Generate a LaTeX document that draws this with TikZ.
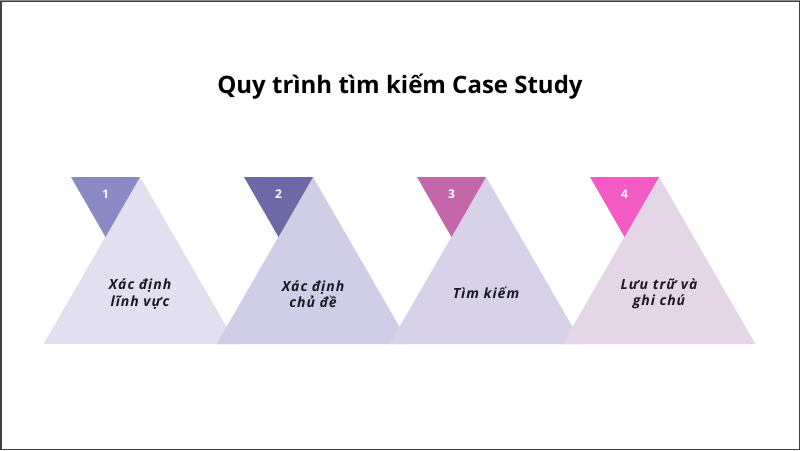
\documentclass[tikz,border=0pt]{standalone}
\usepackage{fontspec}
\setmainfont{Open Sans}
\newfontfamily\labelfont[LetterSpace=7]{Open Sans}
\definecolor{big1}{HTML}{E1DFF0}
\definecolor{big2}{HTML}{D0CDE6}
\definecolor{big3}{HTML}{D8D2E8}
\definecolor{big4}{HTML}{E5D6E7}
\definecolor{sm1}{HTML}{8A8AC4}
\definecolor{sm2}{HTML}{6D69A6}
\definecolor{sm3}{HTML}{C366AA}
\definecolor{sm4}{HTML}{F25CC2}
\definecolor{txt}{HTML}{1A1A22}
\tikzset{
  numlabel/.style={text=white,font=\fontsize{12}{14}\selectfont\bfseries,inner sep=0pt},
  steplabel/.style={text=txt,font=\labelfont\fontsize{14}{16.5}\selectfont\bfseries\itshape,align=center,inner sep=0pt},
  titlelabel/.style={text=black,font=\fontsize{24}{28}\selectfont\bfseries,inner sep=0pt}
}
\begin{document}
\begin{tikzpicture}[x=1pt,y=-1pt]
\useasboundingbox (0,0) rectangle (800,450);
\fill[white] (0,0) rectangle (800,450);
\draw[line width=1.5pt,black!75] (0.75,0.75) rectangle (799.25,449.25);
\draw[black!45,line width=0.8pt] (0,0.5) -- (800,0.5);
\node[titlelabel] (title) at (400,87) {Quy trình tìm kiếm Case Study};
\foreach \k/\big/\sm/\n in {0/big1/sm1/1,1/big2/sm2/2,2/big3/sm3/3,3/big4/sm4/4}{
  \pgfmathsetmacro{\ax}{140+173*\k}
  \coordinate (apex\n) at (\ax,177);
  \coordinate (bl\n) at (\ax-96.4,344);
  \coordinate (br\n) at (\ax+96.4,344);
  \fill[\big] (apex\n) -- (br\n) -- (bl\n) -- cycle;
  \coordinate (sl\n) at (\ax-69,177);
  \coordinate (sb\n) at (\ax-34.5,237);
  \fill[\sm] (sl\n) -- (apex\n) -- (sb\n) -- cycle;
  \node[numlabel] (num\n) at (\ax-34.5,194) {\n};
}
\node[steplabel] (lab1) at (140,294) {Xác định\\ lĩnh vực};
\node[steplabel] (lab2) at (313,294) {Xác định\\ chủ đề};
\node[steplabel] (lab3) at (486,293) {Tìm kiếm};
\node[steplabel] (lab4) at (659,294) {Lưu trữ và\\ ghi chú};
\end{tikzpicture}
\end{document}
